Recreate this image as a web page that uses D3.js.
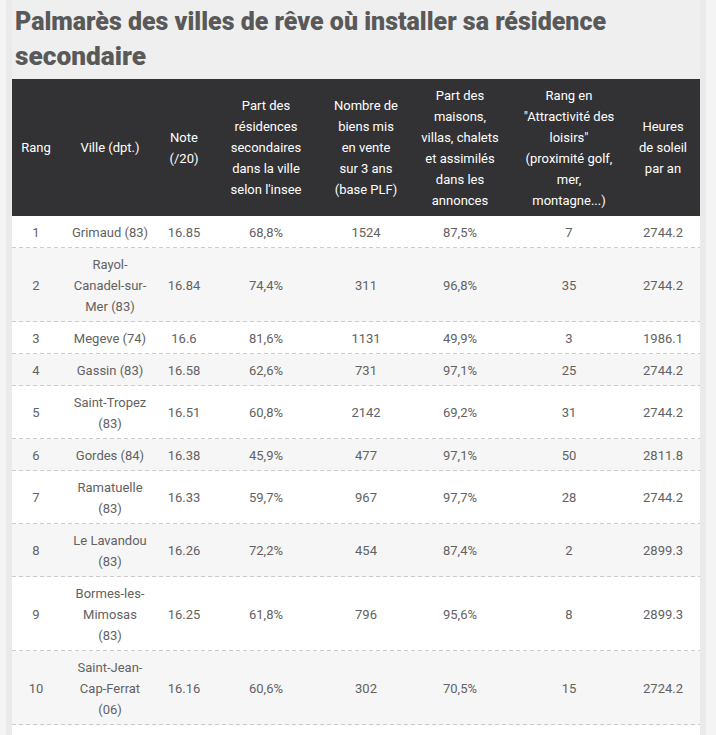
<!DOCTYPE html>
<html><head><meta charset="utf-8">
<script src="https://cdn.jsdelivr.net/npm/d3@7"></script>
<style>
html,body{margin:0;padding:0;background:#f4f4f4;}
svg{display:block;}
</style></head>
<body>
<svg id="chart" width="716" height="735"></svg>
<script>
// ---------- DATA ----------
const titleLines = ["Palmarès des villes de rêve où installer sa résidence", "secondaire"];
const headers = [
  ["Rang"],
  ["Ville (dpt.)"],
  ["Note", "(/20)"],
  ["Part des", "résidences", "secondaires", "dans la ville", "selon l'insee"],
  ["Nombre de", "biens mis", "en vente", "sur 3 ans", "(base PLF)"],
  ["Part des", "maisons,", "villas, chalets", "et assimilés", "dans les", "annonces"],
  ["Rang en", "\"Attractivité des", "loisirs\"", "(proximité golf,", "mer,", "montagne...)"],
  ["Heures", "de soleil", "par an"]
];
const rangs = [1, 2, 3, 4, 5, 6, 7, 8, 9, 10];
const villes = [
  ["Grimaud (83)"],
  ["Rayol-", "Canadel-sur-", "Mer (83)"],
  ["Megeve (74)"],
  ["Gassin (83)"],
  ["Saint-Tropez", "(83)"],
  ["Gordes (84)"],
  ["Ramatuelle", "(83)"],
  ["Le Lavandou", "(83)"],
  ["Bormes-les-", "Mimosas", "(83)"],
  ["Saint-Jean-", "Cap-Ferrat", "(06)"]
];
const notes = ["16.85", "16.84", "16.6", "16.58", "16.51", "16.38", "16.33", "16.26", "16.25", "16.16"];
const partResidences = ["68,8%", "74,4%", "81,6%", "62,6%", "60,8%", "45,9%", "59,7%", "72,2%", "61,8%", "60,6%"];
const biensEnVente = [1524, 311, 1131, 731, 2142, 477, 967, 454, 796, 302];
const partMaisons = ["87,5%", "96,8%", "49,9%", "97,1%", "69,2%", "97,1%", "97,7%", "87,4%", "95,6%", "70,5%"];
const rangLoisirs = [7, 35, 3, 25, 31, 50, 28, 2, 8, 15];
const heuresSoleil = ["2744.2", "2744.2", "1986.1", "2744.2", "2744.2", "2811.8", "2744.2", "2899.3", "2899.3", "2724.2"];

// ---------- LAYOUT ----------
const W = 716, H = 735;
const tableX = 12, tableRight = 700;
const headerTop = 79, lineH = 21, pad = 11;
const colWidths = [48, 100, 48, 116, 84, 104, 114, 74];
const colEdges = [tableX, ...d3.cumsum(colWidths).map(v => tableX + v)];
const colCenter = d3.scaleOrdinal().domain(d3.range(colWidths.length))
  .range(colWidths.map((w, i) => colEdges[i] + w / 2));

const svg = d3.select("#chart");
// page / container backgrounds
svg.append("rect").attr("x", 0).attr("y", 0).attr("width", W).attr("height", H).attr("fill", "#f4f4f4");
svg.append("rect").attr("x", 6).attr("y", 0).attr("width", 700).attr("height", H).attr("fill", "#eaeaea");
svg.append("rect").attr("x", 12).attr("y", 0).attr("width", 688).attr("height", headerTop).attr("fill", "#efefef");

// title
const titleWidths = [591, 131];
svg.selectAll("text.title").data(titleLines).join("text")
  .attr("class", "title")
  .attr("x", 15)
  .attr("y", (d, i) => 30 + i * 35)
  .attr("textLength", (d, i) => titleWidths[i])
  .attr("lengthAdjust", "spacingAndGlyphs")
  .attr("font-family", "Roboto, sans-serif")
  .attr("font-weight", 900)
  .attr("font-size", 25)
  .attr("fill", "#595959")
  .text(d => d);

// header
const headerLines = d3.max(headers, h => h.length);
const headerH = headerLines * lineH + pad;
svg.append("rect").attr("x", tableX).attr("y", headerTop)
  .attr("width", tableRight - tableX).attr("height", headerH).attr("fill", "#323234");
const hMid = headerTop + headerH / 2;
const hg = svg.selectAll("g.hcell").data(headers).join("g").attr("class", "hcell");
hg.each(function (lines, ci) {
  d3.select(this).selectAll("text").data(lines).join("text")
    .attr("x", colCenter(ci))
    .attr("y", (d, li) => hMid + (li - (lines.length - 1) / 2) * lineH)
    .attr("dy", "0.35em")
    .attr("text-anchor", "middle")
    .attr("font-family", "Roboto, sans-serif")
    .attr("font-size", 13)
    .attr("fill", "#ffffff")
    .text(d => d);
});

// body rows
const rows = rangs.map((r, i) => ({
  cells: [[String(r)], villes[i], [notes[i]], [partResidences[i]], [String(biensEnVente[i])],
          [partMaisons[i]], [String(rangLoisirs[i])], [heuresSoleil[i]]],
  lines: villes[i].length
}));
const bodyTop = headerTop + headerH;
let acc = bodyTop;
rows.forEach(r => { r.y = acc; r.h = r.lines * lineH + pad; acc += r.h; });

svg.append("rect").attr("x", tableX).attr("y", bodyTop)
  .attr("width", tableRight - tableX).attr("height", H - bodyTop).attr("fill", "#ffffff");

const rg = svg.selectAll("g.row").data(rows).join("g").attr("class", "row");
rg.append("rect")
  .attr("x", tableX).attr("y", d => d.y)
  .attr("width", tableRight - tableX).attr("height", d => d.h)
  .attr("fill", (d, i) => i % 2 ? "#f6f6f6" : "#ffffff");
rg.append("line")
  .attr("x1", tableX).attr("x2", tableRight)
  .attr("y1", d => d.y + d.h - 0.5).attr("y2", d => d.y + d.h - 0.5)
  .attr("stroke", "#cccccc").attr("stroke-width", 1)
  .attr("stroke-dasharray", "4,3");
rg.each(function (row) {
  const g = d3.select(this);
  const mid = row.y + row.h / 2;
  row.cells.forEach((lines, ci) => {
    g.append("g").selectAll("text").data(lines).join("text")
      .attr("x", colCenter(ci))
      .attr("y", (d, li) => mid + (li - (lines.length - 1) / 2) * lineH)
      .attr("dy", "0.35em")
      .attr("text-anchor", "middle")
      .attr("font-family", "Roboto, sans-serif")
      .attr("font-size", 13)
      .attr("fill", "#626262")
      .text(d => d);
  });
});
</script>
</body></html>
